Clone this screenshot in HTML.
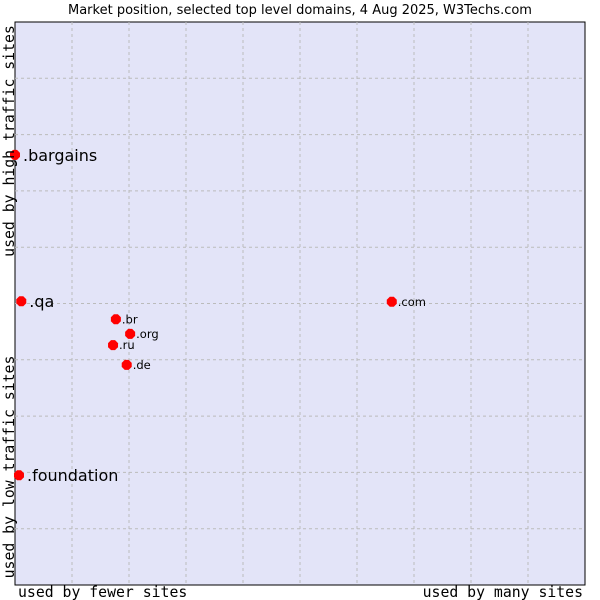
<!DOCTYPE html>
<html><head><meta charset="utf-8"><style>
body{margin:0;background:#fff;}
svg{display:block;font-family:"DejaVu Sans",sans-serif;}
.mono{font-family:"DejaVu Sans Mono","Liberation Mono",monospace;font-size:14.8px;fill:#000}
</style></head><body>
<svg id="chart" width="600" height="600">
<text x="300" y="14" text-anchor="middle" font-size="13">Market position, selected top level domains, 4 Aug 2025, W3Techs.com</text>
<rect x="15" y="22" width="570" height="563" fill="#e3e4f8" stroke="#000" stroke-width="1"/>
<g id="grid"></g>
<g id="points"></g>
<text class="mono" x="18" y="597">used by fewer sites</text>
<text class="mono" x="583" y="597" text-anchor="end">used by many sites</text>
<text class="mono" transform="translate(14,141) rotate(-90)" text-anchor="middle">used by high traffic sites</text>
<text class="mono" transform="translate(14,467) rotate(-90)" text-anchor="middle">used by low traffic sites</text>
</svg>
<script>
const labels=[".bargains",".qa",".foundation",".com",".br",".org",".ru",".de"];
const xVals=[0,1.1,0.7,66.1,17.7,20.2,17.2,19.6];
const yVals=[76.4,50.4,19.5,50.3,47.2,44.6,42.6,39.1];
const bigLabel=[true,true,true,false,false,false,false,false];
const L=15,T=22,W=570,H=563;
const sx=v=>L+v/100*W, sy=v=>T+H-v/100*H;
const NS="http://www.w3.org/2000/svg";
const grid=document.getElementById('grid');
for(let i=1;i<10;i++){
 const l=document.createElementNS(NS,'line');
 
 
 const x=L+i*W/10;
 l.setAttribute('x1',x);l.setAttribute('x2',x);l.setAttribute('y1',T);l.setAttribute('y2',T+H);
 l.setAttribute('stroke','#bbb');l.setAttribute('stroke-dasharray','3,3');grid.appendChild(l);
 const h=document.createElementNS(NS,'line');
 
 
 const y=T+i*H/10;
 h.setAttribute('x1',L);h.setAttribute('x2',L+W);h.setAttribute('y1',y);h.setAttribute('y2',y);
 h.setAttribute('stroke','#bbb');h.setAttribute('stroke-dasharray','3,3');grid.appendChild(h);
}
const pts=document.getElementById('points');
labels.forEach((lab,i)=>{
 const x=sx(xVals[i]),y=sy(yVals[i]);
 const m=document.createElementNS(NS,'path');
 
 
 m.setAttribute('d',`M${x-5},${y-2}L${x-2},${y-5}L${x+2},${y-5}L${x+5},${y-2}L${x+5},${y+2}L${x+2},${y+5}L${x-2},${y+5}L${x-5},${y+2}Z`);
 m.setAttribute('fill','#f00');pts.appendChild(m);
 const t=document.createElementNS(NS,'text');
 
 
 const big=bigLabel[i];
 t.setAttribute('x',x+(big?8:6));t.setAttribute('y',y+(big?6:4));
 t.setAttribute('font-size',big?16:11.5);
 t.textContent=lab;pts.appendChild(t);
});
</script>
</body></html>
